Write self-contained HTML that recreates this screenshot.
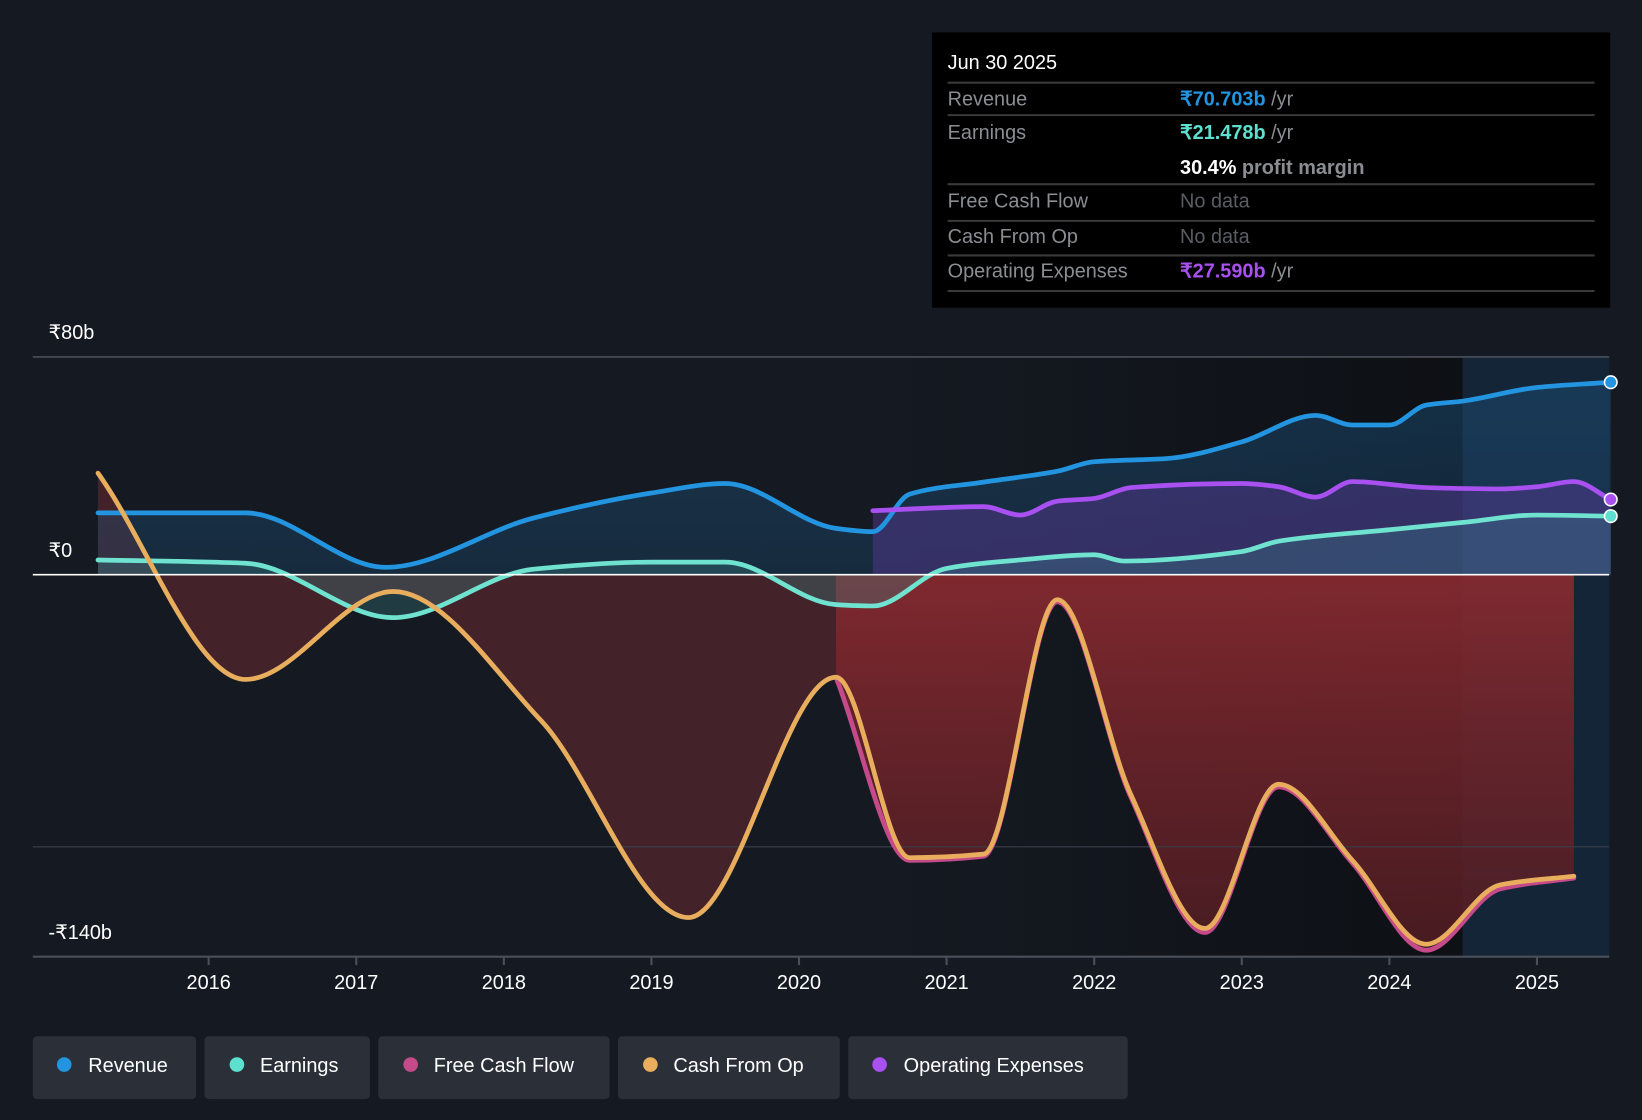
<!DOCTYPE html>
<html><head><meta charset="utf-8">
<style>
html,body{margin:0;padding:0;background:#151a22;}
svg{display:block;font-family:"Liberation Sans",sans-serif;}
</style></head>
<body>
<svg id="chart" width="1642" height="1120" viewBox="0 0 1568 1070" xmlns="http://www.w3.org/2000/svg">
<defs>
<linearGradient id="fcfGrad" x1="0" y1="0" x2="0" y2="1">
<stop offset="0" stop-color="#8a2a30" stop-opacity="0.85"/>
<stop offset="1" stop-color="#4a1a20" stop-opacity="0.7"/>
</linearGradient>
<linearGradient id="revGrad" x1="0" y1="0" x2="0" y2="1">
<stop offset="0" stop-color="#1b4a70" stop-opacity="0.55"/>
<stop offset="1" stop-color="#1b4a70" stop-opacity="0.35"/>
</linearGradient>
<linearGradient id="darkGrad" x1="0" y1="0" x2="1" y2="0">
<stop offset="0" stop-color="#0e1116" stop-opacity="0"/>
<stop offset="0.6" stop-color="#0c0e12" stop-opacity="0.5"/>
<stop offset="1" stop-color="#0b0d11" stop-opacity="0.8"/>
</linearGradient>
</defs>
<rect width="1568" height="1070" fill="#151a22"/>
<rect x="830" y="341" width="567" height="573" fill="url(#darkGrad)"/>
<rect x="1397" y="341" width="140" height="573" fill="#15304a" opacity="0.55"/>
<g id="areas"></g>
<line x1="31" y1="341" x2="1537" y2="341" stroke="#4a4f59" stroke-width="1.5"/>
<line x1="31" y1="809" x2="1537" y2="809" stroke="#3a3f49" stroke-width="1"/>
<g id="lines"></g>
<line x1="31" y1="549" x2="1537" y2="549" stroke="#ffffff" stroke-width="1.5"/>
<line x1="31" y1="914" x2="1537" y2="914" stroke="#4a4f59" stroke-width="2"/>
<g id="xticks" font-size="19" fill="#ffffff" text-anchor="middle"></g>
<text x="46" y="324" font-size="19" fill="#fff">₹80b</text>
<text x="46" y="532" font-size="19" fill="#fff">₹0</text>
<text x="46" y="897" font-size="19" fill="#fff">-₹140b</text>
<g id="dots"></g>

<g>
<rect x="890" y="31" width="648" height="263" fill="#000"/>
<text x="905" y="66" font-size="19" fill="#fff">Jun 30 2025</text>
<g stroke="#3a3a3a" stroke-width="2">
<line x1="905" y1="79" x2="1523" y2="79"/><line x1="905" y1="110" x2="1523" y2="110"/>
<line x1="905" y1="176" x2="1523" y2="176"/><line x1="905" y1="211" x2="1523" y2="211"/>
<line x1="905" y1="244" x2="1523" y2="244"/><line x1="905" y1="278" x2="1523" y2="278"/>
</g>
<g font-size="19" fill="#8a8d92">
<text x="905" y="101">Revenue</text><text x="905" y="133">Earnings</text>
<text x="905" y="198">Free Cash Flow</text><text x="905" y="232">Cash From Op</text>
<text x="905" y="265">Operating Expenses</text>
</g>
<text x="1127" y="101" font-size="19" fill="#8a8d92"><tspan fill="#2394df" font-weight="bold">₹70.703b</tspan> /yr</text>
<text x="1127" y="133" font-size="19" fill="#8a8d92"><tspan fill="#5de0cf" font-weight="bold">₹21.478b</tspan> /yr</text>
<text x="1127" y="166" font-size="19" fill="#8a8d92" font-weight="bold"><tspan fill="#fff">30.4%</tspan> profit margin</text>
<text x="1127" y="198" font-size="19" fill="#5a5d62">No data</text>
<text x="1127" y="232" font-size="19" fill="#5a5d62">No data</text>
<text x="1127" y="265" font-size="19" fill="#8a8d92"><tspan fill="#a950f0" font-weight="bold">₹27.590b</tspan> /yr</text>
</g>

<g font-size="19" fill="#fff">
<g><rect x="31" y="990" width="156" height="60" rx="4" fill="#2a2f38"/><circle cx="61" cy="1017" r="7" fill="#2394df"/><text x="84" y="1024">Revenue</text></g>
<g><rect x="195" y="990" width="158" height="60" rx="4" fill="#2a2f38"/><circle cx="226" cy="1017" r="7" fill="#5de0cf"/><text x="248" y="1024">Earnings</text></g>
<g><rect x="361" y="990" width="221" height="60" rx="4" fill="#2a2f38"/><circle cx="392" cy="1017" r="7" fill="#c44a8a"/><text x="414" y="1024">Free Cash Flow</text></g>
<g><rect x="590" y="990" width="212" height="60" rx="4" fill="#2a2f38"/><circle cx="621" cy="1017" r="7" fill="#e8ae5e"/><text x="643" y="1024">Cash From Op</text></g>
<g><rect x="810" y="990" width="267" height="60" rx="4" fill="#2a2f38"/><circle cx="840" cy="1017" r="7" fill="#a950f0"/><text x="863" y="1024">Operating Expenses</text></g>
</g>
</svg>
<script>
const revT=[2015.25,2016.25,2017.2,2018.2,2019,2019.5,2020.25,2020.5,2020.75,2021.25,2021.75,2022,2022.5,2023,2023.5,2023.75,2024,2024.25,2024.5,2025,2025.5];
const revV=[22.7,22.7,2.7,20.8,30,33.5,17,15.8,29.6,34,38,41.5,42.7,48.8,58.5,55,55,62.3,63.8,68.8,70.7];
const earnT=[2015.25,2016.25,2017.25,2018.2,2019,2019.5,2020.25,2020.5,2021,2021.5,2022,2022.2,2023,2023.25,2024,2024.5,2025,2025.5];
const earnV=[5.4,4.2,-15.8,2,4.6,4.6,-11,-11.5,2.3,5.4,7.3,5,8.5,12.3,16.5,19.2,21.9,21.5];
const opxT=[2020.5,2021.25,2021.5,2021.75,2022,2022.25,2023,2023.25,2023.5,2023.75,2024.25,2024.75,2025,2025.25,2025.5];
const opxV=[23.5,25,21.9,27,28,32,33.5,32.3,28.5,34.2,32,31.5,32.3,34.2,27.6];
const cfoT=[2015.25,2016.25,2017.25,2018.25,2019.25,2020.25,2020.75,2021.25,2021.75,2022.25,2022.75,2023.25,2023.75,2024.25,2024.75,2025.25];
const cfoV=[37.3,-38.5,-6.2,-53.5,-126,-37.7,-104,-102.7,-9.2,-81,-130,-77,-105,-135.8,-114,-110.8];
const fcfT=[2020.25,2020.75,2021.25,2021.75,2022.25,2022.75,2023.25,2023.75,2024.25,2024.75,2025.25];
const fcfV=[-37.7,-105,-103.5,-10,-82,-131.5,-78,-106,-138,-115.5,-111.5];
const xTicks=[2016,2017,2018,2019,2020,2021,2022,2023,2024,2025];

const X=t=>199+(t-2016)*141;
const Y=v=>549-v*2.6;
const NS='http://www.w3.org/2000/svg';
function path(T,V){
  const x=T.map(X),y=V.map(Y),n=x.length;
  const d=[],m=new Array(n);
  for(let i=0;i<n-1;i++)d.push((y[i+1]-y[i])/(x[i+1]-x[i]));
  m[0]=d[0];m[n-1]=d[n-2];
  for(let i=1;i<n-1;i++){
    if(d[i-1]*d[i]<=0)m[i]=0;
    else{const h0=x[i]-x[i-1],h1=x[i+1]-x[i];const w1=2*h1+h0,w2=h1+2*h0;m[i]=(w1+w2)/(w1/d[i-1]+w2/d[i]);}
  }
  let s='M'+x[0]+','+y[0];
  for(let i=0;i<n-1;i++){
    const h=(x[i+1]-x[i])/3;
    s+=' C'+(x[i]+h)+','+(y[i]+m[i]*h)+' '+(x[i+1]-h)+','+(y[i+1]-m[i+1]*h)+' '+x[i+1]+','+y[i+1];
  }
  return s;
}
function area(T,V){return path(T,V)+' L'+X(T[T.length-1])+','+Y(0)+' L'+X(T[0])+','+Y(0)+' Z';}
function mk(parent,tag,attrs){const e=document.createElementNS(NS,tag);for(const k in attrs)e.setAttribute(k,attrs[k]);document.getElementById(parent).appendChild(e);return e;}
let e;
e=mk('areas','path',{d:area(cfoT,cfoV),fill:'#6a2a30',opacity:'0.55'});


e=mk('areas','path',{d:area(fcfT,fcfV),fill:'url(#fcfGrad)'});


e=mk('areas','path',{d:area(revT,revV),fill:'url(#revGrad)'});


e=mk('areas','path',{d:area(opxT,opxV),fill:'#5a3a9a',opacity:'0.45'});


e=mk('areas','path',{d:area(earnT,earnV),fill:'#3a8a90',opacity:'0.3'});


const series=[['revenue-line',revT,revV,'#2394df'],['earnings-line',earnT,earnV,'#6fe3cf'],['opex-line',opxT,opxV,'#a950f0'],['fcf-line',fcfT,fcfV,'#c44a8a'],['cfo-line',cfoT,cfoV,'#e8ae5e']];
series.forEach(s=>{
  const l=mk('lines','path',{d:path(s[1],s[2]),fill:'none',stroke:s[3],'stroke-width':'4.5','stroke-linecap':'round'});
  
  
});
[[revT,revV,'#2394df','revenue-end-dot'],[opxT,opxV,'#a950f0','opex-end-dot'],[earnT,earnV,'#5de0cf','earnings-end-dot']].forEach(s=>{
  const n=s[0].length-1;
  const c=mk('dots','circle',{cx:X(s[0][n]),cy:Y(s[1][n]),r:6,fill:s[2],stroke:'#fff','stroke-width':1.5});
  
  
});
xTicks.forEach(t=>{
  const l=mk('xticks','line',{x1:X(t),x2:X(t),y1:914,y2:922,stroke:'#4a4f59','stroke-width':2});
  
  
  const tx=mk('xticks','text',{x:X(t),y:945});
  tx.textContent=t;
  
  
});
</script>
</body></html>
